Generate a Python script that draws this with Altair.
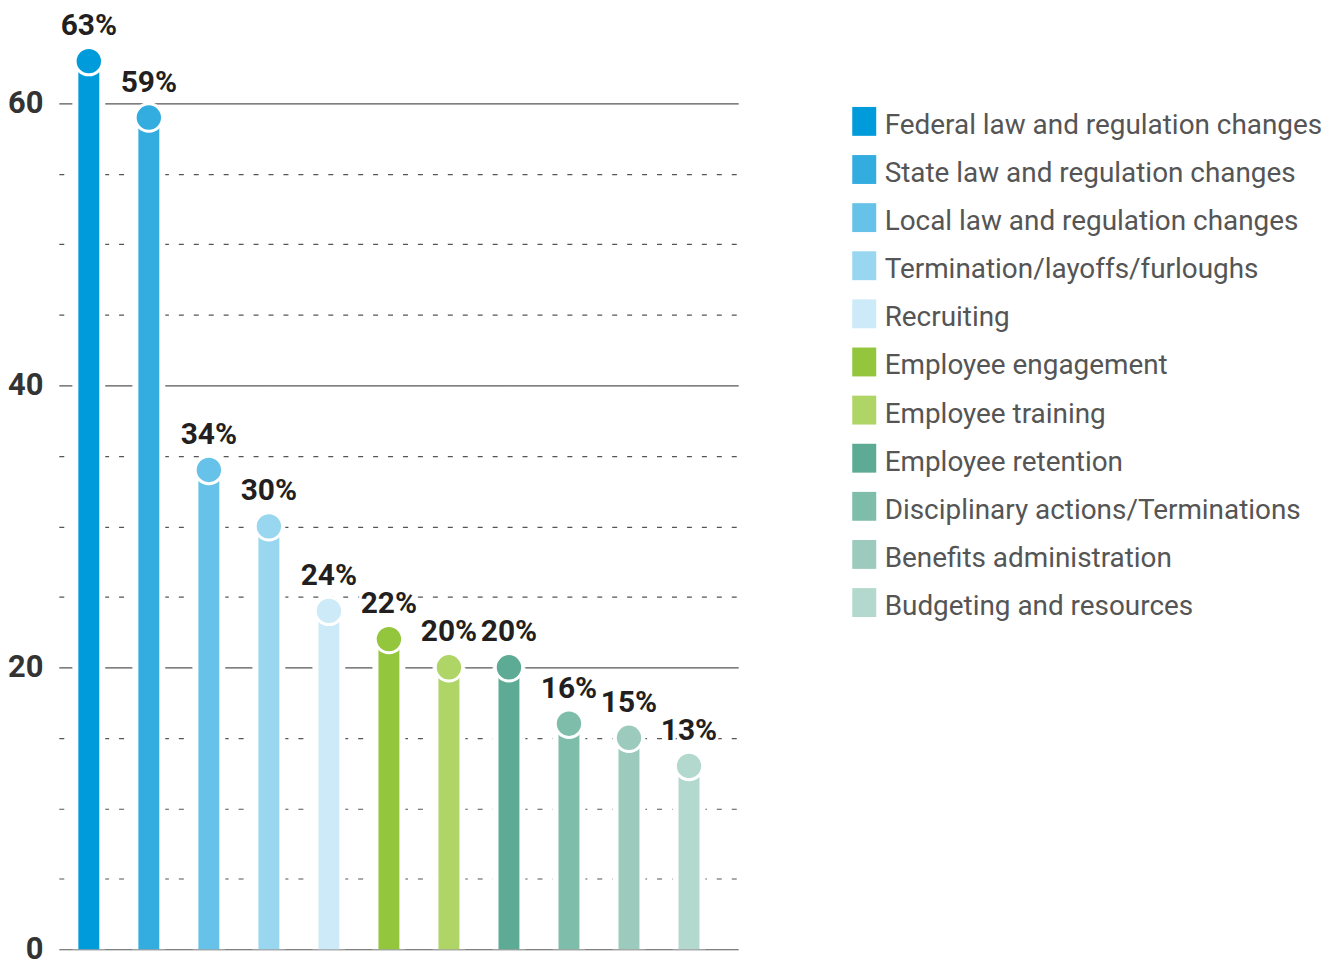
import altair as alt
import pandas as pd

categories = [
    "Federal law and regulation changes",
    "State law and regulation changes",
    "Local law and regulation changes",
    "Termination/layoffs/furloughs",
    "Recruiting",
    "Employee engagement",
    "Employee training",
    "Employee retention",
    "Disciplinary actions/Terminations",
    "Benefits administration",
    "Budgeting and resources",
]
values = [63, 59, 34, 30, 24, 22, 20, 20, 16, 15, 13]
labels = ["63%", "59%", "34%", "30%", "24%", "22%", "20%", "20%", "16%", "15%", "13%"]
colors = [
    "#009bdb", "#33ade0", "#66c2e8", "#99d6f0", "#cceaf7",
    "#93c63c", "#aed565", "#5dab94", "#7dbda9", "#9ccbbd", "#b3d8cd",
]
grid_values = [0, 5, 10, 15, 20, 25, 30, 35, 40, 45, 50, 55, 60]

df = pd.DataFrame({"category": categories, "value": values, "label": labels})

x = alt.X(
    "category:N",
    sort=None,
    axis=None,
    scale=alt.Scale(paddingInner=0, paddingOuter=0.16, align=0),
)
y = alt.Y(
    "value:Q",
    scale=alt.Scale(domain=[0, 60], nice=False, zero=True),
    axis=alt.Axis(
        values=grid_values,
        labelExpr="datum.value % 20 === 0 ? datum.label : ''",
        grid=True,
        gridColor="#555555",
        gridWidth=1.2,
        gridDash={"condition": {"test": "datum.value % 20 === 0", "value": [1, 0]}, "value": [5, 10]},
        domain=False,
        ticks=False,
        labelFont="Roboto",
        labelFontWeight="bold",
        labelFontSize=31,
        labelColor="#333333",
        labelPadding=16,
        labelOverlap=False,
        title=None,
    ),
)
color = alt.Color(
    "category:N",
    sort=None,
    scale=alt.Scale(domain=categories, range=colors),
    legend=alt.Legend(
        orient="none",
        legendX=794,
        legendY=8,
        title=None,
        labelFont="Roboto",
        labelFontSize=28,
        labelColor="#555555",
        symbolType="M-0.83,-1.31L0.83,-1.31L0.83,0.69L-0.83,0.69Z",
        symbolSize=841,
        symbolStrokeWidth=0,
        symbolOpacity=1,
        labelOffset=6,
        rowPadding=14.3,
        labelLimit=0,
    ),
)

base = alt.Chart(df)

mask = base.mark_bar(size=33, color="white").encode(x=x, y=y)
bars = base.mark_bar(size=21).encode(x=x, y=y, color=color)
dots = base.mark_circle(size=755, opacity=1, stroke="white", strokeWidth=3).encode(x=x, y=y, color=color)
halo = base.mark_text(
    dy=-35, font="Roboto", fontWeight="bold", fontSize=30, stroke="white", strokeWidth=6, color="white"
).encode(x=x, y=y, text="label:N")
text = base.mark_text(
    dy=-35, font="Roboto", fontWeight="bold", fontSize=30, color="#231f20"
).encode(x=x, y=y, text="label:N")

chart = (
    alt.layer(mask, bars, dots, halo, text)
    .properties(
        width=682,
        height=849,
        padding={"left": 51, "top": 94, "right": 585, "bottom": 12},
        autosize=alt.AutoSizeParams(type="none"),
    )
    .configure_view(stroke=None)
)

chart.save("out.html", embed_options={"renderer": "svg", "actions": False})
